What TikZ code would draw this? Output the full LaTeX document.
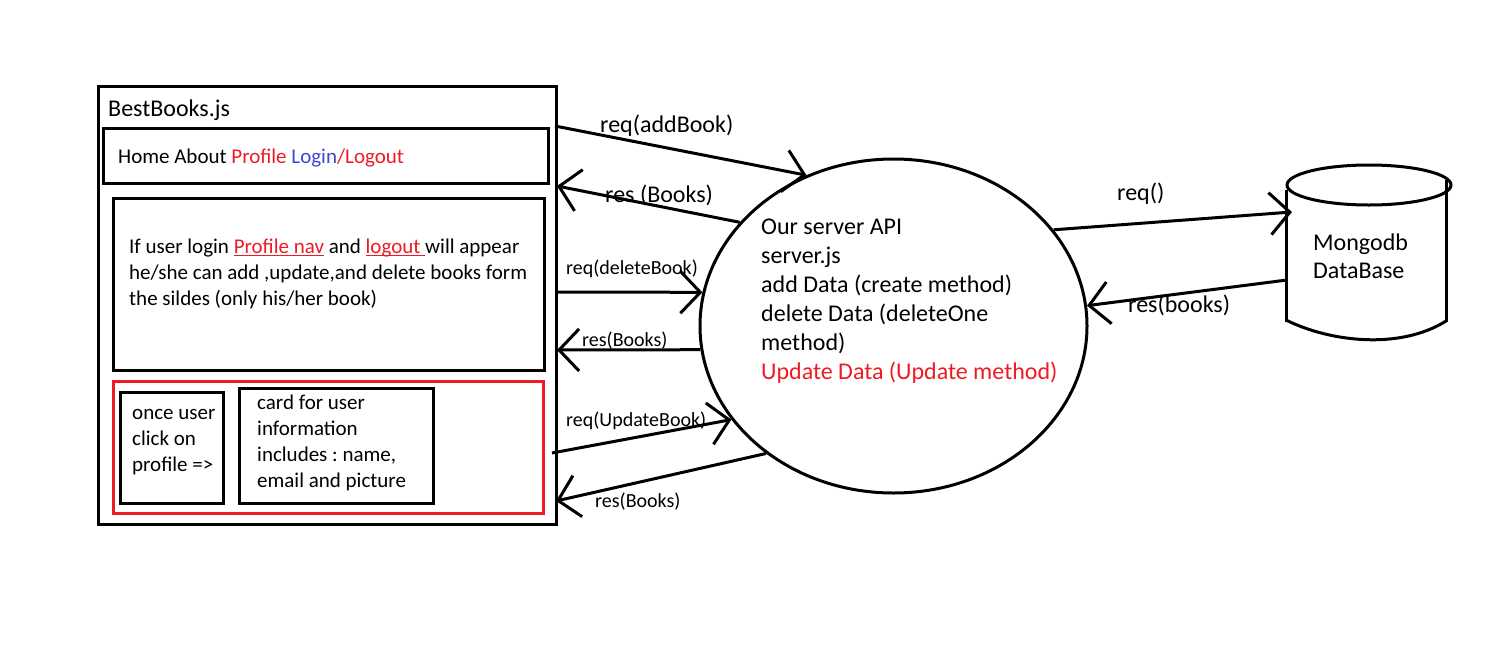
\documentclass[tikz,border=0pt]{standalone}
\usepackage{fontspec}
\setmainfont{Carlito}
\frenchspacing
\usetikzlibrary{shapes.geometric,arrows.meta}
\definecolor{pred}{RGB}{237,28,36}
\definecolor{pblue}{RGB}{63,72,204}
\newcommand{\fs}[2]{\fontsize{#1}{#2}\selectfont}
\newcommand{\ulx}[1]{\leavevmode{\setbox0\hbox{#1}\rlap{\rule[-2.5pt]{\wd0}{1.2pt}}\box0}}
\tikzset{
  box/.style={draw, line width=3pt, inner sep=0, anchor=north west},
  redbox/.style={draw=pred, line width=2.5pt, inner sep=0, anchor=north west},
  txt/.style={inner sep=0, anchor=west, align=left},
  arr/.style={line width=3pt, -{Straight Barb[length=20pt,width=42pt,line width=3pt]}},
  lbl/.style={inner sep=0, anchor=west},
  big/.style={font=\fs{24}{29}},
  mid/.style={font=\fs{21}{26}},
  small/.style={font=\fs{20}{24}},
}
\begin{document}
\begin{tikzpicture}[x=1pt,y=-1pt]
\useasboundingbox[fill=white] (0,0) rectangle (1486,670);
% left frame
\node[box, minimum width=458, minimum height=438] (outer) at (97,85) {};
\node[txt, big] (title) at (108,110) {BestBooks.js};
\node[box, minimum width=445, minimum height=55] (nav) at (102,127) {};
\node[txt, mid] (navtxt) at (118,158) {Home About \textcolor{pred}{Profile} \textcolor{pblue}{Login}\textcolor{pred}{/Logout}};
\node[box, minimum width=431, minimum height=172] (midbox) at (112,197) {};
\node[txt, mid] (midtxt) at (129,274) {If user login \textcolor{pred}{\ulx{Profile nav}} and \textcolor{pred}{\ulx{logout\ }}will appear\\he/she can add ,update,and delete books form\\the sildes (only his/her book)};
\node[redbox, minimum width=430, minimum height=132] (prof) at (112,380) {};
\node[box, minimum width=103, minimum height=111] (b1) at (119,391) {};
\node[txt, mid] (b1txt) at (132,442) {once user\\click on\\profile =>};
\node[box, minimum width=194, minimum height=115] (b2) at (238,387) {};
\node[txt, mid] (b2txt) at (257,442.5) {card for user\\information\\includes : name,\\email and picture};
% server
\node[draw, ellipse, line width=3pt, minimum width=387, minimum height=334, inner sep=0] (srv) at (893.5,326) {};
\node[txt, big] (srvtxt) at (761,301.5) {Our server API\\server.js\\add Data (create method)\\delete Data (deleteOne\\method)\\\textcolor{pred}{Update Data (Update method)}};
% database cylinder
\node[inner sep=0, minimum width=160, minimum height=137, anchor=north west] (db) at (1286,185) {};
\draw[line width=3pt] (1369,185) ellipse [x radius=82, y radius=20];
\draw[line width=3pt] (1286,190) -- (1286,322);
\draw[line width=3pt] (1446,180) -- (1446,322);
\draw[line width=3pt] (1286,320) .. controls (1330,342) and (1400,350) .. (1446,321);
\node[txt, font=\fs{24}{28}] (dbtxt) at (1313,256) {Mongodb\\DataBase};
% connector end points on the frame
\coordinate (l1) at (555,126);
\coordinate (l2) at (557,186);
\coordinate (l3) at (557,292);
\coordinate (l4) at (557,350);
\coordinate (l5) at (552,453);
\coordinate (l6) at (556,501);
\coordinate (dbin) at (1292,212);
\coordinate (dbout) at (1287,280);
% connectors
\draw[arr] (l1) -- (srv.120.5);
\draw[arr] (srv.146.7) -- (l2);
\draw[arr] (l3) -- (srv.170.8);
\draw[arr] (srv.187.1) -- (l4);
\draw[arr] (l5) -- (srv.210.7);
\draw[arr] (srv.225.6) -- (l6);
\draw[arr] (srv.31.2) -- (dbin);
\draw[arr] (dbout) -- (srv.6.96);
% labels
\node[lbl, big] (t1) at (600,126) {req(addBook)};
\node[lbl, big] (t2) at (605,195) {res (Books)};
\node[lbl, small] (t3) at (566,269) {req(deleteBook)};
\node[lbl, small] (t4) at (582,341) {res(Books)};
\node[lbl, small] (t5) at (566,421) {req(UpdateBook)};
\node[lbl, small] (t6) at (595,502) {res(Books)};
\node[lbl, big] (t7) at (1117,194) {req()};
\node[lbl, big] (t8) at (1128,305) {res(books)};
\end{tikzpicture}
\end{document}
